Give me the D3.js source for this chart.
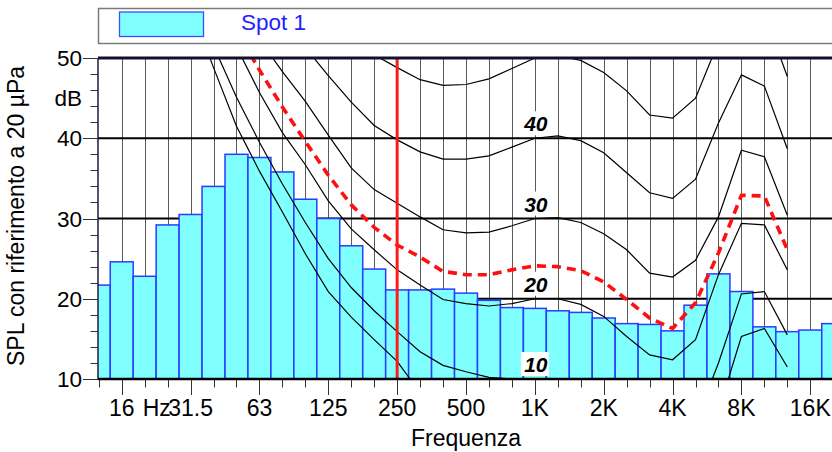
<!DOCTYPE html>
<html>
<head>
<meta charset="utf-8">
<script src="https://cdn.jsdelivr.net/npm/d3@7"></script>
<style>
  body { margin: 0; background: #fff; }
  svg { display: block; }
  text { font-family: Arial, "Liberation Sans", sans-serif; }
</style>
</head>
<body>
<svg id="chart" width="832" height="452"></svg>
<script>
// 1/3 octave bands shown on the x axis
const bands = ['12.5', '16', '20', '25', '31.5', '40', '50', '63', '80', '100', '125', '160', '200', '250', '315',
  '400', '500', '630', '800', '1K', '1.25K', '1.6K', '2K', '2.5K', '3.15K', '4K', '5K', '6.3K', '8K', '10K',
  '12.5K', '16K', '20K']

// measured spectrum, dB
const spot1 = [21.7, 24.6, 22.8, 29.2, 30.5, 34.0, 38.0, 37.6, 35.8, 32.4, 30.0, 26.6, 23.7, 21.1, 21.1,
  21.2, 20.7, 19.8, 18.9, 18.8, 18.5, 18.3, 17.6, 16.9, 16.8, 16.0, 19.2, 23.1, 20.9, 16.5,
  15.9, 16.1, 16.9]

// equal loudness curves go from 20 Hz to 12.5 kHz
const curveBands = bands.slice(2, 31)
const threshold = [70, 63, 56.5, 48.8, 41.5, 35.9, 30.8, 25.6, 20.9, 17.7, 14.9, 12.2, 8.3, 6.2, 4.6,
  3.5, 3.0, 3.5, 3.5, 2.5, 0, -2.5, -4.5, -5, -2.5, 6.0, 15.3, 16.3, 11.5]
const phon10 = [72, 65, 58, 51.5, 45.1, 39.5, 34.3, 29.5, 25.0, 21.4, 18.5, 15.9, 13.4, 11.7, 10.9,
  10.2, 10.0, 10, 9.9, 9.2, 7.6, 5.2, 3.0, 2.4, 4.6, 12.0, 20.6, 20.9, 15.5]
const phon20 = [74, 68, 62, 56, 51.4, 45.7, 40.7, 36.7, 32.2, 28.7, 26.1, 23.6, 21.7, 19.9, 19.4,
  19.1, 19.4, 20, 20.0, 19.3, 17.8, 15.3, 13.0, 12.4, 14.9, 23.0, 29.4, 29.2, 23.6]
const phon30 = [79, 73, 67, 62, 57, 52.3, 48.3, 44.6, 40.4, 36.3, 33.6, 31.9, 30.2, 28.6, 28.2,
  28.3, 29.1, 30, 30.1, 29.5, 28.1, 26.1, 23.2, 22.7, 24.8, 30.2, 38.5, 37.7, 30.4]
const phon40 = [83, 77, 72, 67, 63, 59, 55, 51.3, 47.8, 44.5, 41.6, 39.8, 38.3, 37.4, 37.4,
  37.8, 38.9, 40, 40.3, 39.7, 38.2, 35.7, 33.2, 32.5, 34.9, 41.9, 47.9, 46.5, 38.7]
const phon50 = [90, 85, 80, 75, 71, 67, 63, 59, 56, 53, 50.4, 48.8, 47.3, 46.6, 46.7,
  47.4, 48.7, 50, 50.3, 49.7, 48.2, 45.9, 42.9, 42.5, 45.0, 52, 57, 55.5, 47.7]
// red dashed reference curve
const redCurve = [73, 68, 63, 58, 53.5, 48.5, 43.9, 39.6, 35.4, 31.7, 28.9, 26.7, 25.2, 23.4, 23.0,
  23.0, 23.6, 24.1, 24.0, 23.5, 22.1, 19.9, 17.6, 16.3, 19.5, 25.7, 32.9, 32.8, 26.1]

const octaveLabels = ['16', '31.5', '63', '125', '250', '500', '1K', '2K', '4K', '8K', '16K']
const yTicks = [10, 20, 30, 40, 50]
const phonLabels = [10, 20, 30, 40]
const markerBand = '250'

const svg = d3.select('#chart')

const x = d3.scaleBand().domain(bands).range([87.3, 844.7]).padding(0)
const cx = b => x(b) + x.bandwidth() / 2
const y = d3.scaleLinear().domain([10, 50]).range([379, 58])

const plotLeft = 98, plotRight = 845

svg.append('clipPath').attr('id', 'plot')
  .append('rect')
  .attr('x', plotLeft).attr('y', y(50))
  .attr('width', plotRight - plotLeft).attr('height', y(10) - y(50))

// legend
svg.append('rect')
  .attr('x', 98.5).attr('y', 8.5).attr('width', 760).attr('height', 35)
  .attr('fill', '#fff').attr('stroke', '#7a7a7a').attr('stroke-width', 1.5)
svg.append('rect')
  .attr('x', 119.5).attr('y', 12).attr('width', 84).attr('height', 24.5)
  .attr('fill', '#80ffff').attr('stroke', '#3a4dff').attr('stroke-width', 1.3)
svg.append('text')
  .attr('x', 241).attr('y', 29.5)
  .attr('font-size', 22.5).attr('fill', '#1f1fff')
  .text('Spot 1')

// vertical grid at every band
svg.append('g')
  .selectAll('line')
  .data(bands.slice(1))
  .enter()
  .append('line')
  .attr('x1', d => Math.round(cx(d)) + 0.5).attr('x2', d => Math.round(cx(d)) + 0.5)
  .attr('y1', y(50)).attr('y2', y(10))
  .attr('stroke', '#5a5a5a').attr('stroke-width', 1)

// horizontal grid
svg.append('g')
  .selectAll('line')
  .data([20, 30, 40])
  .enter()
  .append('line')
  .attr('x1', plotLeft).attr('x2', plotRight)
  .attr('y1', d => y(d)).attr('y2', d => y(d))
  .attr('stroke', '#000').attr('stroke-width', 2)

// bars
svg.append('g')
  .attr('clip-path', 'url(#plot)')
  .selectAll('rect')
  .data(bands)
  .enter()
  .append('rect')
  .attr('x', d => x(d)).attr('width', x.bandwidth())
  .attr('y', (d, i) => y(spot1[i])).attr('height', (d, i) => y(10) - y(spot1[i]))
  .attr('fill', '#80ffff').attr('stroke', '#2a3cff').attr('stroke-width', 1.5)

const line = d3.line()
  .x((d, i) => cx(curveBands[i]))
  .y(d => y(d))

const curves = svg.append('g').attr('clip-path', 'url(#plot)')
const blackCurves = [threshold, phon10, phon20, phon30, phon40, phon50]
blackCurves.forEach(c => {
  curves.append('path')
    .attr('d', line(c))
    .attr('fill', 'none').attr('stroke', '#000').attr('stroke-width', 1.2)
})

curves.append('path')
  .attr('d', line(redCurve))
  .attr('fill', 'none').attr('stroke', '#ff1010').attr('stroke-width', 3.6)
  .attr('stroke-dasharray', '9,6').attr('stroke-linejoin', 'round')

// red marker at 250 Hz
svg.append('line')
  .attr('x1', cx(markerBand)).attr('x2', cx(markerBand))
  .attr('y1', y(50)).attr('y2', y(10) + 1)
  .attr('stroke', '#ff1a1a').attr('stroke-width', 3)

// frame
svg.append('line')
  .attr('x1', plotLeft).attr('x2', plotRight).attr('y1', y(50)).attr('y2', y(50))
  .attr('stroke', '#12122e').attr('stroke-width', 3)
svg.append('line')
  .attr('x1', plotLeft).attr('x2', plotRight).attr('y1', y(10)).attr('y2', y(10))
  .attr('stroke', '#000').attr('stroke-width', 2.5)
svg.append('line')
  .attr('x1', plotLeft).attr('x2', plotLeft).attr('y1', y(50)).attr('y2', y(10))
  .attr('stroke', '#1c1c44').attr('stroke-width', 1.5)

// y axis ticks
const yMinor = d3.range(10, 50.1, 2)
svg.append('g')
  .selectAll('line')
  .data(yMinor)
  .enter()
  .append('line')
  .attr('x1', d => d % 10 === 0 ? 83 : 90.5).attr('x2', plotLeft)
  .attr('y1', d => Math.round(y(d)) + 0.5).attr('y2', d => Math.round(y(d)) + 0.5)
  .attr('stroke', '#333').attr('stroke-width', 1)

svg.append('g')
  .selectAll('text')
  .data(yTicks)
  .enter()
  .append('text')
  .attr('x', 82).attr('y', d => y(d) + 8)
  .attr('text-anchor', 'end').attr('font-size', 22.5).attr('fill', '#000')
  .text(d => d)
svg.append('text')
  .attr('x', 82).attr('y', y(45) + 8)
  .attr('text-anchor', 'end').attr('font-size', 22.5).attr('fill', '#000')
  .text('dB')

// x axis ticks
svg.append('g')
  .selectAll('line')
  .data(bands)
  .enter()
  .append('line')
  .attr('x1', d => Math.round(cx(d)) + 0.5).attr('x2', d => Math.round(cx(d)) + 0.5)
  .attr('y1', y(10) + 1).attr('y2', d => octaveLabels.includes(d) ? 395 : 387.5)
  .attr('stroke', '#333').attr('stroke-width', 1)

svg.append('g')
  .selectAll('text')
  .data(octaveLabels)
  .enter()
  .append('text')
  .attr('x', d => cx(d)).attr('y', 416)
  .attr('text-anchor', 'middle').attr('font-size', 23).attr('fill', '#000')
  .text(d => d)
svg.append('text')
  .attr('x', cx('16') + 21).attr('y', 416)
  .attr('font-size', 23).attr('fill', '#000')
  .text('Hz')

svg.append('text')
  .attr('x', 466).attr('y', 446)
  .attr('text-anchor', 'middle').attr('font-size', 23).attr('fill', '#000')
  .text('Frequenza')

svg.append('text')
  .attr('transform', 'translate(24,216) rotate(-90)')
  .attr('text-anchor', 'middle').attr('font-size', 23).attr('fill', '#000')
  .text('SPL con riferimento a 20 µPa')

// phon labels at 1 kHz
const lab = svg.append('g')
phonLabels.forEach(p => {
  lab.append('rect')
    .attr('x', cx('1K') - 14).attr('y', y(p) - 27).attr('width', 28).attr('height', 24)
    .attr('fill', '#fff')
  lab.append('text')
    .attr('x', cx('1K') + 1).attr('y', y(p) - 7)
    .attr('text-anchor', 'middle').attr('font-size', 21)
    .attr('font-weight', 'bold').attr('font-style', 'italic').attr('fill', '#000')
    .text(p)
})
</script>
</body>
</html>
